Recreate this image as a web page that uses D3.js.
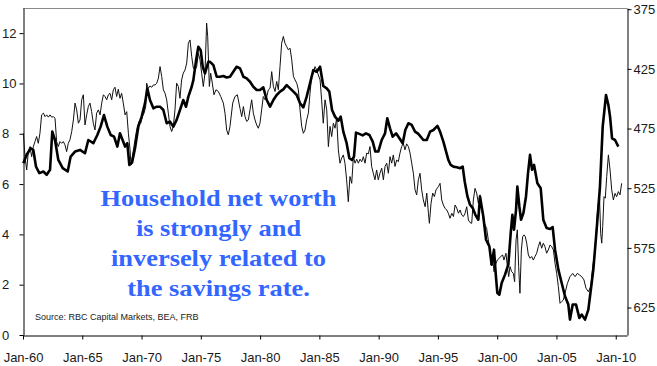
<!DOCTYPE html>
<html>
<head>
<meta charset="utf-8">
<script src="https://cdn.jsdelivr.net/npm/d3@7"></script>
<style>
  body { margin: 0; background: #fff; }
  svg { display: block; }
  .tick text { font-family: "Liberation Sans Narrow", "Arial Narrow", "Liberation Sans", Arial, sans-serif; font-size: 13px; fill: #1a1a1a; }
</style>
</head>
<body>
<svg id="chart" width="657" height="366"></svg>
<script>
// Personal savings rate, % of disposable income (left axis) — [year, value]
const savingsRate = [
  [1960.03,8.02],[1960.17,7.09],[1960.31,6.56],[1960.45,7.29],[1960.59,7.49],[1960.73,7.09],[1960.87,7.49],
  [1961.01,7.69],[1961.15,7.89],[1961.29,7.62],[1961.43,8.02],[1961.57,8.75],[1961.72,8.82],[1961.86,8.68],
  [1962.00,8.75],[1962.14,8.66],[1962.28,8.75],[1962.42,8.66],[1962.56,8.68],[1962.70,8.62],[1962.84,7.69],
  [1962.98,7.49],[1963.12,7.69],[1963.26,7.62],[1963.40,7.69],[1963.54,7.56],[1963.68,7.29],[1963.82,7.62],
  [1963.96,7.76],[1964.11,8.09],[1964.25,8.55],[1964.39,9.22],[1964.53,8.95],[1964.67,8.42],[1964.81,8.55],
  [1964.95,9.35],[1965.09,9.55],[1965.23,8.35],[1965.37,8.75],[1965.51,9.08],[1965.65,9.22],[1965.79,8.88],
  [1965.93,8.42],[1966.07,8.15],[1966.21,8.82],[1966.36,8.95],[1966.50,8.75],[1966.64,9.22],[1966.78,9.55],
  [1966.92,9.48],[1967.06,9.35],[1967.20,9.55],[1967.34,9.61],[1967.48,9.35],[1967.62,9.75],[1967.76,9.85],
  [1967.90,9.48],[1968.04,9.77],[1968.18,9.41],[1968.32,9.61],[1968.46,9.22],[1968.61,8.75],[1968.75,8.88],
  [1968.89,8.02],[1969.03,7.36],[1969.11,6.76],[1969.22,7.09],[1969.36,7.49],[1969.51,7.96],[1969.65,8.29],
  [1969.79,8.49],[1969.93,8.42],[1970.07,8.68],[1970.21,8.82],[1970.35,9.08],[1970.43,10.01],[1970.57,9.81],
  [1970.71,9.90],[1970.86,9.85],[1971.00,9.94],[1971.14,9.94],[1971.28,10.01],[1971.42,10.21],[1971.56,10.67],
  [1971.70,10.28],[1971.84,9.75],[1971.98,9.61],[1972.12,9.35],[1972.26,8.82],[1972.40,8.29],[1972.54,8.09],
  [1972.68,8.29],[1972.82,8.95],[1972.96,10.01],[1973.10,9.88],[1973.24,9.41],[1973.38,10.14],[1973.52,10.41],
  [1973.67,10.54],[1973.81,10.81],[1973.95,11.60],[1974.09,11.73],[1974.23,11.07],[1974.37,10.61],[1974.51,10.54],
  [1974.65,10.67],[1974.79,11.20],[1974.93,10.94],[1975.07,10.41],[1975.21,9.88],[1975.35,10.41],[1975.49,12.40],
  [1975.58,11.87],[1975.72,9.88],[1975.83,10.41],[1975.97,10.01],[1976.11,9.55],[1976.28,9.75],[1976.48,9.68],
  [1976.68,9.48],[1976.90,9.22],[1977.04,8.82],[1977.18,8.15],[1977.32,7.96],[1977.46,8.29],[1977.69,9.22],
  [1977.88,9.48],[1978.08,9.55],[1978.31,9.00],[1978.45,8.68],[1978.59,9.08],[1978.73,8.68],[1978.87,8.49],
  [1979.01,8.55],[1979.15,8.95],[1979.29,9.35],[1979.43,8.82],[1979.57,8.55],[1979.71,8.35],[1979.85,8.22],
  [1979.99,8.42],[1980.13,8.95],[1980.27,9.48],[1980.42,9.35],[1980.56,9.48],[1980.70,9.75],[1980.84,9.81],
  [1980.98,10.47],[1981.12,9.88],[1981.26,9.68],[1981.40,10.08],[1981.54,9.75],[1981.68,10.67],[1981.82,11.60],
  [1981.96,11.87],[1982.10,11.60],[1982.24,11.47],[1982.38,11.34],[1982.53,11.40],[1982.67,10.94],[1982.81,10.28],
  [1982.95,10.14],[1983.09,10.01],[1983.23,9.75],[1983.37,8.95],[1983.51,8.29],[1983.65,8.02],[1983.79,8.15],
  [1983.93,8.55],[1984.07,8.82],[1984.21,9.61],[1984.35,10.28],[1984.49,10.41],[1984.63,10.67],[1984.77,10.54],
  [1984.91,10.34],[1985.06,10.14],[1985.19,9.35],[1985.33,8.42],[1985.48,9.35],[1985.62,8.95],[1985.76,7.49],
  [1985.90,8.29],[1986.04,7.89],[1986.18,8.42],[1986.32,8.22],[1986.46,8.62],[1986.60,7.36],[1986.74,6.83],
  [1986.88,7.03],[1987.02,7.16],[1987.16,6.83],[1987.30,6.17],[1987.44,5.30],[1987.58,6.30],[1987.73,6.03],
  [1987.87,7.09],[1988.01,6.83],[1988.15,6.99],[1988.29,6.83],[1988.43,6.99],[1988.57,6.89],[1988.71,7.09],
  [1988.85,6.83],[1988.99,7.23],[1989.13,7.20],[1989.27,7.49],[1989.41,6.70],[1989.55,6.43],[1989.69,6.17],
  [1989.83,6.56],[1989.97,6.17],[1990.11,6.43],[1990.26,6.63],[1990.40,6.17],[1990.54,6.70],[1990.68,6.83],
  [1990.82,6.43],[1990.96,7.09],[1991.10,6.83],[1991.24,7.16],[1991.38,6.70],[1991.52,6.96],[1991.66,6.89],
  [1991.80,7.23],[1991.94,7.49],[1992.08,7.62],[1992.22,7.36],[1992.36,7.60],[1992.51,7.49],[1992.65,7.23],
  [1992.79,6.83],[1992.93,6.43],[1993.07,5.77],[1993.21,5.57],[1993.35,6.17],[1993.49,6.43],[1993.63,5.77],
  [1993.77,5.37],[1993.92,5.10],[1994.06,5.64],[1994.20,4.84],[1994.28,4.44],[1994.42,5.24],[1994.56,5.64],
  [1994.70,5.50],[1994.84,5.77],[1995.04,5.90],[1995.18,6.03],[1995.32,5.37],[1995.46,5.17],[1995.60,5.04],
  [1995.74,4.97],[1995.88,4.84],[1996.02,4.64],[1996.17,4.84],[1996.31,4.71],[1996.45,5.17],[1996.59,5.04],
  [1996.73,4.84],[1996.87,4.97],[1997.01,4.77],[1997.15,4.71],[1997.29,4.84],[1997.43,5.10],[1997.57,4.57],
  [1997.71,4.47],[1997.85,4.44],[1997.99,5.37],[1998.13,5.83],[1998.27,5.64],[1998.41,5.24],[1998.55,5.57],
  [1998.69,5.10],[1998.83,4.57],[1998.97,4.38],[1999.11,4.24],[1999.25,3.78],[1999.39,3.38],[1999.48,2.78],
  [1999.62,3.05],[1999.73,2.52],[1999.90,2.85],[2000.01,2.98],[2000.18,3.05],[2000.29,3.12],[2000.46,3.18],
  [2000.57,2.98],[2000.74,3.25],[2000.86,2.72],[2000.97,2.32],[2001.08,2.72],[2001.22,2.52],[2001.36,2.45],
  [2001.47,2.12],[2001.59,3.78],[2001.70,4.18],[2001.81,2.72],[2001.92,1.66],[2002.04,3.38],[2002.15,3.91],
  [2002.26,3.98],[2002.37,3.91],[2002.49,3.65],[2002.63,3.18],[2002.77,3.05],[2002.91,3.12],[2003.05,2.98],
  [2003.19,3.12],[2003.33,3.25],[2003.47,3.51],[2003.61,3.71],[2003.75,3.45],[2003.89,3.65],[2004.03,3.51],
  [2004.17,3.25],[2004.31,3.38],[2004.46,3.58],[2004.60,3.51],[2004.74,3.38],[2004.88,2.85],[2005.02,2.45],
  [2005.16,1.92],[2005.30,1.26],[2005.44,1.33],[2005.58,1.39],[2005.72,1.66],[2005.92,2.05],[2006.14,2.32],
  [2006.37,2.45],[2006.57,2.32],[2006.76,2.45],[2006.93,2.39],[2007.13,2.32],[2007.32,2.19],[2007.49,1.86],
  [2007.69,1.72],[2007.89,1.92],[2008.06,2.72],[2008.22,3.25],[2008.34,4.04],[2008.45,4.84],[2008.62,5.63],
  [2008.73,4.04],[2008.82,3.65],[2008.90,4.31],[2009.01,5.50],[2009.12,5.44],[2009.24,6.30],[2009.38,7.16],
  [2009.52,6.56],[2009.66,5.77],[2009.80,5.37],[2009.94,5.63],[2010.08,5.50],[2010.22,5.70],[2010.36,5.57],
  [2010.50,6.03]
];

// Household net worth, % of disposable income (right axis, inverted) — [year, value]
const netWorth = [
  [1960.03,504],[1960.31,497],[1960.65,491.5],[1960.87,493],[1961.10,507],[1961.38,512.4],[1961.72,511],
  [1962.00,513.8],[1962.28,509.6],[1962.47,477.6],[1962.70,484.6],[1962.98,501.3],[1963.35,508.2],[1963.77,511],
  [1964.02,498.5],[1964.39,494.3],[1964.81,492.9],[1965.23,495.7],[1965.51,484.6],[1965.93,487.3],[1966.27,480.4],
  [1966.55,473.4],[1966.83,463.7],[1967.11,473.4],[1967.40,480.4],[1967.68,481.8],[1967.96,490.1],[1968.18,479],
  [1968.61,490.1],[1968.80,487.3],[1968.97,505.5],[1969.20,503.5],[1969.45,491.5],[1969.73,473.4],[1970.01,465],
  [1970.29,453.9],[1970.49,441.4],[1970.71,451.1],[1971.00,458.1],[1971.28,456.7],[1971.56,456.7],[1971.84,459.5],
  [1972.12,470.6],[1972.40,469.2],[1972.68,473.4],[1972.96,467.8],[1973.24,459.5],[1973.52,451.1],[1973.75,456.7],
  [1973.95,448.3],[1974.23,440],[1974.37,434.4],[1974.60,417.7],[1974.79,406.5],[1974.99,409.3],[1975.16,423.2],
  [1975.35,428.8],[1975.63,419.1],[1975.78,419.1],[1976.06,421.9],[1976.34,431.6],[1976.62,431.6],[1976.90,431],
  [1977.18,432.2],[1977.46,431.6],[1977.74,427.4],[1978.02,423.2],[1978.31,424.6],[1978.59,431.6],[1978.87,433],
  [1979.15,435.8],[1979.43,440],[1979.71,442.7],[1979.99,442.7],[1980.27,440.5],[1980.56,451.1],[1980.84,456.7],
  [1981.12,451.1],[1981.40,446.9],[1981.68,444.1],[1981.96,442.2],[1982.24,438.6],[1982.53,441.4],[1982.81,444.1],
  [1983.09,446.9],[1983.37,453.9],[1983.65,457.2],[1983.93,448.3],[1984.21,437.2],[1984.49,426],[1984.77,427.4],
  [1985.06,423.2],[1985.33,439.4],[1985.62,441.4],[1985.84,444.1],[1986.07,459.5],[1986.32,465],[1986.60,468.4],
  [1986.80,465],[1987.02,477.6],[1987.30,487.3],[1987.53,499.9],[1987.75,501.3],[1987.92,498.5],[1988.09,478.4],
  [1988.37,479.5],[1988.65,480.7],[1988.93,479],[1989.22,480.4],[1989.50,486],[1989.72,494.3],[1989.97,494.3],
  [1990.26,484.6],[1990.54,479],[1990.73,466.4],[1990.96,474.8],[1991.18,481.8],[1991.47,479],[1991.75,483.2],
  [1992.03,487.3],[1992.25,476.2],[1992.51,470.6],[1992.79,472],[1993.07,477.6],[1993.35,479.5],[1993.77,484.6],
  [1994.06,484.6],[1994.34,477.6],[1994.62,476.2],[1994.96,472.8],[1995.18,477.6],[1995.46,486],[1995.69,494.3],
  [1995.88,501.3],[1996.08,505.5],[1996.31,506.9],[1996.59,507.4],[1996.87,508.2],[1997.09,506.9],[1997.26,519.4],
  [1997.49,531.9],[1997.71,538.9],[1997.94,541.7],[1998.16,547.3],[1998.41,551.4],[1998.55,531.9],[1998.83,548.7],
  [1999.06,568.2],[1999.34,573.7],[1999.53,589.1],[1999.73,576.5],[1999.87,596],[2000.01,612.8],[2000.18,614.2],
  [2000.38,604.4],[2000.66,597.4],[2000.94,589.1],[2001.14,562.6],[2001.28,547.3],[2001.42,559.8],[2001.59,543.1],
  [2001.70,523.6],[2001.87,540.3],[2002.01,551.4],[2002.21,545.9],[2002.43,531.9],[2002.60,512.4],[2002.77,497.1],
  [2002.94,509.6],[2003.11,505.5],[2003.39,520.8],[2003.67,525],[2003.89,551.4],[2004.17,558.4],[2004.46,559.2],
  [2004.68,557.6],[2004.88,576.5],[2005.16,593.2],[2005.44,604.4],[2005.72,615.5],[2006.00,622.5],[2006.14,635.1],
  [2006.37,622.5],[2006.65,622.5],[2006.93,633.7],[2007.13,630.9],[2007.41,635.1],[2007.69,626.7],[2007.97,604.4],
  [2008.11,593.2],[2008.39,559.8],[2008.67,523.6],[2008.90,473.4],[2009.18,446.9],[2009.38,455.3],[2009.52,465],
  [2009.69,483.2],[2009.94,484.6],[2010.22,490.1]
];

const xTickYears = [1960, 1965, 1970, 1975, 1980, 1985, 1990, 1995, 2000, 2005, 2010];
const xTickLabels = ["Jan-60", "Jan-65", "Jan-70", "Jan-75", "Jan-80", "Jan-85", "Jan-90", "Jan-95", "Jan-00", "Jan-05", "Jan-10"];
const leftTicks = [0, 2, 4, 6, 8, 10, 12];
const rightTicks = [375, 425, 475, 525, 575, 625];
const noteLines = ["Household net worth", "is strongly and", "inversely related to", "the savings rate."];
const sourceNote = "Source: RBC Capital Markets, BEA, FRB";

const svg = d3.select("#chart");
const plot = { left: 23, right: 627, top: 8, bottom: 335 };

const x = d3.scaleLinear().domain([1960, 2010.95]).range([plot.left, plot.right]);
const yLeft = d3.scaleLinear().domain([0, 13]).range([plot.bottom, plot.top]);
// net worth runs downward: larger ratios sit lower in the frame
const yRight = d3.scaleLinear().domain([374, 648]).range([plot.top, plot.bottom]);

// top frame line
svg.append("line")
  .attr("x1", plot.left).attr("x2", plot.right)
  .attr("y1", plot.top + 0.5).attr("y2", plot.top + 0.5)
  .attr("stroke", "#8a8a8a").attr("stroke-width", 1);

// left axis
const gLeft = svg.append("g")
  .attr("transform", `translate(${plot.left + 0.5},0)`)
  .call(d3.axisLeft(yLeft).tickValues(leftTicks).tickSize(4).tickSizeOuter(0).tickFormat(d3.format("d")));
gLeft.selectAll("text").attr("text-anchor", "start").attr("x", -21.5);

// right axis
const gRight = svg.append("g")
  .attr("transform", `translate(${plot.right + 0.5},0)`)
  .call(d3.axisRight(yRight).tickValues(rightTicks).tickSize(4).tickSizeOuter(0).tickFormat(d3.format("d")));
gRight.selectAll("text").attr("x", 6);

// bottom axis
const gBottom = svg.append("g")
  .attr("transform", `translate(0,${plot.bottom + 0.5})`)
  .call(d3.axisBottom(x).tickValues(xTickYears).tickSize(4).tickSizeOuter(0)
    .tickFormat((d, i) => xTickLabels[i]));
gBottom.selectAll("text").attr("y", 17);

svg.selectAll(".domain, .tick line").attr("stroke", "#000").attr("stroke-width", 1);

// series
const lineSavings = d3.line().x(d => x(d[0])).y(d => yLeft(d[1]));
const lineWorth = d3.line().x(d => x(d[0])).y(d => yRight(d[1]));

svg.append("path")
  .datum(savingsRate)
  .attr("d", lineSavings)
  .attr("fill", "none")
  .attr("stroke", "#111")
  .attr("stroke-width", 1)
  .attr("stroke-linejoin", "round");

svg.append("path")
  .datum(netWorth)
  .attr("d", lineWorth)
  .attr("fill", "none")
  .attr("stroke", "#000")
  .attr("stroke-width", 2.6)
  .attr("stroke-linejoin", "round");

// annotation, set slightly wide
const note = svg.append("text")
  .attr("transform", "translate(218.5,0) scale(1.1,1)")
  .attr("font-family", "'Liberation Serif', 'Times New Roman', serif")
  .attr("font-weight", "bold")
  .attr("font-size", 24)
  .attr("fill", "#3366ff")
  .attr("text-anchor", "middle");
note.selectAll("tspan")
  .data(noteLines)
  .join("tspan")
  .attr("x", 0)
  .attr("y", (d, i) => 206.5 + i * 30)
  .text(d => d);

svg.append("text")
  .attr("x", 35)
  .attr("y", 320)
  .attr("font-family", "'Liberation Sans Narrow', 'Arial Narrow', 'Liberation Sans', Arial, sans-serif")
  .attr("font-size", 9)
  .attr("fill", "#1a1a1a")
  .text(sourceNote);
</script>
</body>
</html>
